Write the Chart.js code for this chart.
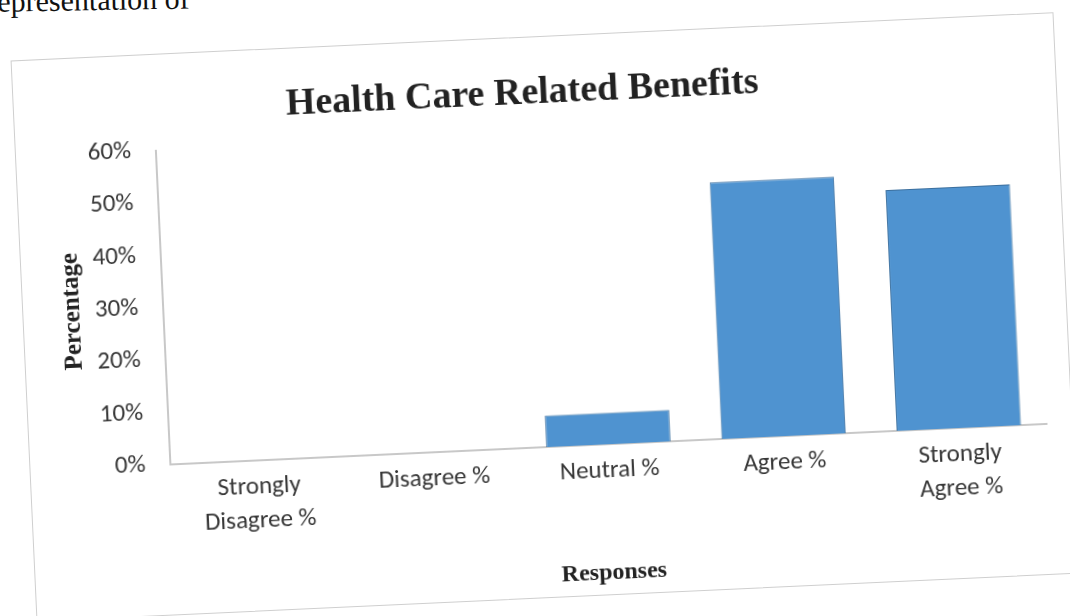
<!DOCTYPE html>
<html>
<head>
<meta charset="utf-8">
<script src="https://cdn.jsdelivr.net/npm/chart.js@4.4.0/dist/chart.umd.min.js"></script>
<style>
  html, body { margin: 0; padding: 0; background: #fff; overflow: hidden; }
  body { width: 1070px; height: 616px; position: relative; }
  #above {
    position: absolute; left: -13px; top: -15px;
    font: 30px "Liberation Serif", "Times New Roman", serif; color: #111;
    transform: rotate(-1deg); transform-origin: left top;
  }
  #frame {
    position: absolute; width: 1044px; height: 562px;
    left: 23px; top: 35.5px;   /* centre at (545, 316.5) */
    border: 1px solid #cfcfcf; box-sizing: border-box;
    transform: rotate(-2.65deg);
  }
</style>
</head>
<body>
<div id="above">representation of</div>
<div id="frame"><canvas id="benefitsChart" width="1042" height="560"></canvas></div>
<script>
// Health care related benefits - responses
const categories = [['Strongly', 'Disagree %'], 'Disagree %', 'Neutral %', 'Agree %', ['Strongly', 'Agree %']];
const percentages = [0, 0, 6, 49, 46];
const yTicks = [0, 10, 20, 30, 40, 50, 60];

const tickFont = { family: 'Carlito, Calibri, Lato, sans-serif', size: 25, lineHeight: 1.35 };
const serifBold = 'Liberation Serif, Times New Roman, serif';

const ctx = document.getElementById('benefitsChart').getContext('2d');
const benefitsChart = new Chart(ctx, {
    type: 'bar',
    data: {
        labels: categories,
        datasets: [{
            label: 'Percentage',
            data: percentages,
            backgroundColor: '#4f93d0',
            borderColor: '#3b6f9e',
            borderWidth: 1,
            categoryPercentage: 1,
            barPercentage: 0.71
        }]
    },
    options: {
        responsive: false,
        animation: false,
        layout: { padding: { left: 0, right: 25, top: 0, bottom: 0 } },
        plugins: {
            legend: { display: false },
            tooltip: { enabled: false },
            title: {
                display: true,
                text: 'Health Care Related Benefits',
                color: '#222',
                font: { family: serifBold, size: 38, weight: 'bold' },
                padding: { top: 33, bottom: 17 }
            }
        },
        scales: {
            x: {
                grid: { display: false, drawTicks: false },
                border: { display: true, color: '#c8c8c8', width: 2 },
                ticks: { color: '#363636', font: tickFont, padding: 10, maxRotation: 0, autoSkip: false },
                title: {
                    display: true,
                    text: 'Responses',
                    color: '#222',
                    font: { family: serifBold, size: 24, weight: 'bold' },
                    padding: { top: 0, bottom: 7 }
                },
                afterFit: scale => { scale.height = 150; }
            },
            y: {
                min: 0,
                max: 60,
                afterBuildTicks: scale => { scale.ticks = yTicks.map(v => ({ value: v })); },
                grid: { display: false, drawTicks: false },
                border: { display: true, color: '#c8c8c8', width: 2 },
                ticks: { color: '#363636', font: tickFont, padding: 25, callback: v => v + '%' },
                title: {
                    display: true,
                    text: 'Percentage',
                    color: '#222',
                    font: { family: serifBold, size: 25, weight: 'bold' },
                    padding: { top: 35, bottom: 0 }
                },
                afterFit: scale => { scale.width = 140; }
            }
        }
    }
});
</script>
</body>
</html>
